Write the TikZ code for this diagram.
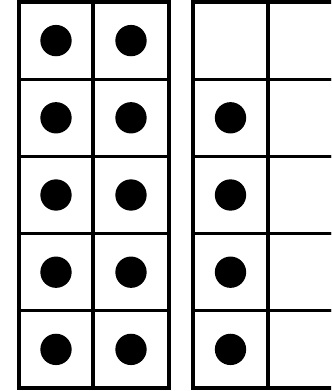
\documentclass[tikz,border=0pt]{standalone}
\tikzset{
  frameline/.style={line width=2.3pt, black},
  counter/.style={circle, fill=black, minimum size=23.5pt, inner sep=0pt}
}
\begin{document}
\begin{tikzpicture}[x=0.75pt, y=-0.75pt]
        \useasboundingbox (0,0) rectangle (331,391);
        \clip (0,0) rectangle (331,391);
        % left frame, full
        \foreach \r in {0,...,4} {
            \draw[frameline] (19,{2+77.2*\r}) rectangle (93,{2+77.2*(\r+1)});
            \draw[frameline] (93,{2+77.2*\r}) rectangle (169,{2+77.2*(\r+1)});
            \node[counter] (l\r a) at (56,{40.6+77.2*\r}) {};
            \node[counter] (l\r b) at (131,{40.6+77.2*\r}) {};
        }
        % right frame, four counters
        \foreach \r in {0,...,4} {
            \draw[frameline] (193,{2+77.2*\r}) rectangle (268,{2+77.2*(\r+1)});
            \draw[frameline] (268,{2+77.2*\r}) rectangle (343,{2+77.2*(\r+1)});
        }
        \foreach \r in {1,...,4}
            \node[counter] (r\r) at (230.5,{40.6+77.2*\r}) {};
    \end{tikzpicture}
\end{document}
